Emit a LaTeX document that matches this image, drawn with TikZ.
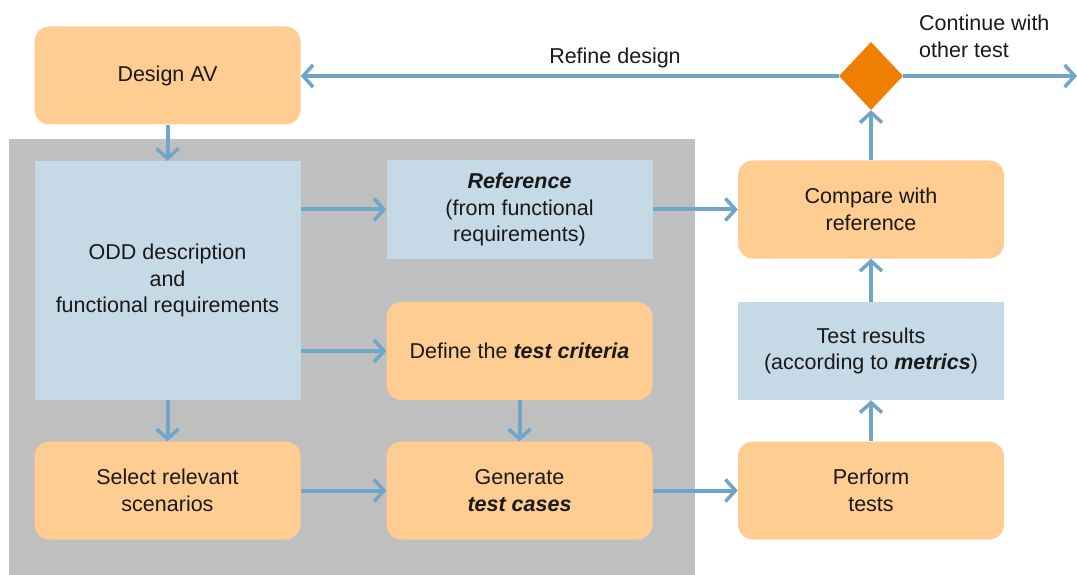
\documentclass[tikz,border=0pt]{standalone}
\usepackage{fontspec}
\setmainfont{Liberation Sans}
\usetikzlibrary{arrows.meta,shapes.geometric}
\definecolor{orangebox}{HTML}{FFCC92}
\definecolor{bluebox}{HTML}{C5D9E6}
\definecolor{panel}{HTML}{BFBFBF}
\definecolor{arrowc}{HTML}{6FA5C9}
\definecolor{diam}{HTML}{EE7F00}
\tikzset{
  base/.style={align=center, inner sep=0pt, font=\fontsize{21.5}{26.5}\selectfont, text=black!90},
  obox/.style={base, fill=orangebox, rounded corners=15pt, minimum width=266pt, minimum height=98pt},
  bbox/.style={base, fill=bluebox, minimum width=266pt, minimum height=98pt},
  conn/.style={draw=arrowc, line width=4pt, -{Straight Barb[length=10pt,width=22pt,line width=3.5pt]}},
  lbl/.style={base, align=left}
}
\begin{document}
\begin{tikzpicture}[x=1pt,y=-1pt]
\useasboundingbox (0,0) rectangle (1077,575);
\fill[panel] (9,139) rectangle (695,575);
\node[obox] (av) at (167.5,75.5) {Design AV};
\node[bbox, minimum height=239pt] (odd) at (167.5,280.5) {ODD description\\and\\functional requirements};
\node[bbox] (ref) at (519.5,209.5) {\textbf{\textit{Reference}}\\(from functional\\requirements)};
\node[obox] (crit) at (519.5,351) {Define the \textbf{\textit{test criteria}}};
\node[obox] (sel) at (167.5,490.5) {Select relevant\\scenarios};
\node[obox] (gen) at (519.5,490.5) {Generate\\\textbf{\textit{test cases}}};
\node[obox] (cmp) at (871,209.5) {Compare with\\reference};
\node[bbox] (res) at (871,351) {Test results\\(according to \textbf{\textit{metrics}})};
\node[obox] (perf) at (871,490.5) {Perform\\tests};
\node[diamond, fill=diam, minimum width=64pt, minimum height=68pt, inner sep=0pt] (dec) at (871,76) {};
\coordinate (out) at (1077,76);
\draw[conn] (dec.west) -- (av.east |- dec.west);
\node[base] (refine) at (615,58) {Refine design};
\draw[conn] (dec.east) -- (out);
\node[lbl, anchor=north west] (cont) at (919,15) {Continue with\\other test};
\draw[conn] (av.south) -- (odd.north);
\draw[conn] (odd.east |- ref.west) -- (ref.west);
\draw[conn] (odd.east |- crit.west) -- (crit.west);
\draw[conn] (odd.south) -- (sel.north);
\draw[conn] (crit.south) -- (gen.north);
\draw[conn] (sel.east) -- (gen.west);
\draw[conn] (gen.east) -- (perf.west);
\draw[conn] (ref.east) -- (cmp.west);
\draw[conn] (perf.north) -- (res.south);
\draw[conn] (res.north) -- (cmp.south);
\draw[conn] (cmp.north) -- (dec.south);
\end{tikzpicture}
\end{document}
